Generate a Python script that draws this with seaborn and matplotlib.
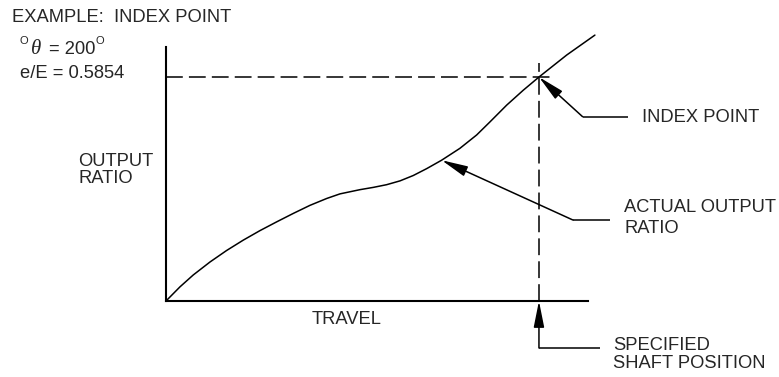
import matplotlib
matplotlib.use("Agg")
import matplotlib.pyplot as plt
import seaborn as sns
import pandas as pd

# ---------------- data ----------------
travel_deg = [0, 7.5, 14.6, 23.6, 32.5, 41.4, 50.4, 59.4, 68.3, 77.2, 86.2, 93.3,
              104.0, 111.2, 118.3, 125.5, 132.6, 139.8, 147.8, 157.6, 166.6,
              173.7, 182.7, 191.6, 200.0, 214.9, 230.0]
output_ratio = [0, 0.037, 0.068, 0.102, 0.132, 0.159, 0.184, 0.207, 0.229, 0.250,
                0.268, 0.280, 0.291, 0.297, 0.304, 0.314, 0.328, 0.346, 0.368,
                0.399, 0.434, 0.468, 0.512, 0.551, 0.5854, 0.643, 0.695]
index_theta = 200.0
index_ratio = 0.5854
actual_ratio_pointer = (147.8, 0.368)

labels_example = "EXAMPLE:  INDEX POINT"
label_theta_value = "= 200"
label_ratio_value = "e/E = 0.5854"
label_y = ["OUTPUT", "RATIO"]
label_x = "TRAVEL"
label_index = "INDEX POINT"
label_actual = ["ACTUAL OUTPUT", "RATIO"]
label_shaft = ["SPECIFIED", "SHAFT POSITION"]

df = pd.DataFrame({"travel": travel_deg, "ratio": output_ratio})

# ---------------- figure ----------------
sns.set_style("white")
plt.rcParams["font.family"] = ["Liberation Sans", "DejaVu Sans"]

W, H = 779, 377
fig = plt.figure(figsize=(W / 100, H / 100), dpi=100)
ax = fig.add_axes([166 / W, 76 / H, 422 / W, 254 / H])
ax.set_xlim(0, 226.3)
ax.set_ylim(0, 0.6639)
ax.set_xticks([])
ax.set_yticks([])
for s in ["top", "right"]:
    ax.spines[s].set_visible(False)
for s in ["left", "bottom"]:
    ax.spines[s].set_linewidth(1.5)
    ax.spines[s].set_color("black")

sns.lineplot(data=df, x="travel", y="ratio", ax=ax, color="black",
             linewidth=1.1, clip_on=False, sort=False)
ax.set_xlabel("")
ax.set_ylabel("")

# dashed reference lines through the index point
ax.plot([0, 205.9], [index_ratio, index_ratio], color="black", lw=1.1,
        dashes=(11, 4), clip_on=False)
ax.plot([index_theta, index_theta], [0, 0.6228], color="black", lw=1.1,
        dashes=(11, 4), clip_on=False)

arrow_kw = dict(arrowstyle="-|>,head_length=1.0,head_width=0.2", mutation_scale=16,
                lw=1.1, color="black", shrinkA=0, shrinkB=0)


def leader(tip, elbow, end_x):
    ax.annotate("", xy=tip, xytext=elbow, arrowprops=arrow_kw,
                annotation_clip=False)
    ax.plot([elbow[0], end_x], [elbow[1], elbow[1]], color="black", lw=1.1,
            clip_on=False, solid_capstyle="butt")


leader((index_theta, index_ratio), (223.4, 0.4817), 247.7)
leader(actual_ratio_pointer, (218.2, 0.2117), 238.1)
leader((index_theta, 0), (index_theta, -0.1228), 232.7)

# ---------------- text ----------------
FS = 13.2


def px(x, y):
    return x / W, 1 - y / H


def ftext(x, y, s, **kw):
    kw.setdefault("fontsize", FS)
    kw.setdefault("va", "center")
    kw.setdefault("ha", "left")
    fig.text(*px(x, y), s, **kw)


ftext(12, 18, labels_example)
ftext(20, 41, "O", fontsize=8)
ftext(31, 49, "\u03b8", family=["Liberation Serif", "DejaVu Serif"],
      style="italic", fontsize=15)
ftext(49, 49, label_theta_value)
ftext(96, 41, "O", fontsize=8)
ftext(20, 74, label_ratio_value)

ftext(78, 162, label_y[0])
ftext(78, 178.5, label_y[1])
ftext(347, 320, label_x, ha="center")
ftext(642, 117, label_index)
ftext(624, 208, label_actual[0])
ftext(624, 228.5, label_actual[1])
ftext(613, 345, label_shaft[0])
ftext(613, 363.5, label_shaft[1])

fig.savefig("out.png", dpi=100)
